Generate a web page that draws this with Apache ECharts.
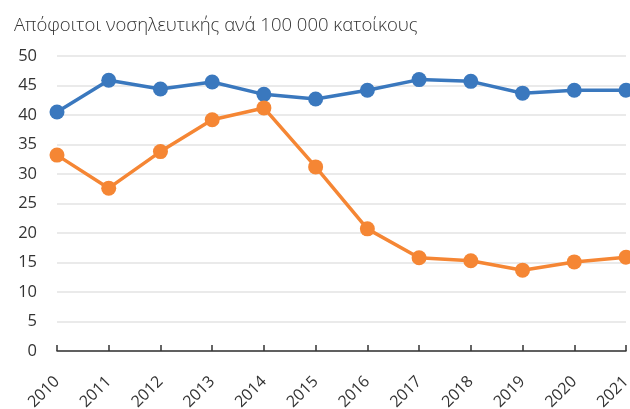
<!DOCTYPE html>
<html>
<head>
<meta charset="utf-8">
<script src="https://cdn.jsdelivr.net/npm/echarts@6/dist/echarts.min.js"></script>
<style>
  html, body { margin: 0; padding: 0; background: #fff; }
  #chart { width: 630px; height: 409px; }
</style>
</head>
<body>
<div id="chart"></div>
<script>
// data
const years = ["2010", "2011", "2012", "2013", "2014", "2015", "2016", "2017", "2018", "2019", "2020", "2021"];
const blueSeries = [40.5, 45.9, 44.4, 45.6, 43.5, 42.7, 44.2, 46.0, 45.7, 43.7, 44.2, 44.2];
const orangeSeries = [33.2, 27.6, 33.8, 39.2, 41.2, 31.2, 20.7, 15.8, 15.3, 13.7, 15.1, 15.9];
const titleText = "Απόφοιτοι νοσηλευτικής ανά 100 000 κατοίκους";

const fontFam = "'Open Sans', 'Noto Sans', sans-serif";
const chart = echarts.init(document.getElementById("chart"), null, { renderer: "canvas" });

function lineSeries(data, color) {
  return {
    type: "line",
    data: data,
    symbol: "circle",
    symbolSize: 15,
    showSymbol: true,
    lineStyle: { color: color, width: 3.5 },
    itemStyle: { color: color, borderWidth: 0 },
    emphasis: { disabled: true },
    animation: false,
    clip: false
  };
}

chart.setOption({
  animation: false,
  title: {
    text: titleText,
    left: 9,
    top: 11,
    textStyle: { fontFamily: fontFam, fontSize: 18.5, fontWeight: 300, color: "#333" }
  },
  grid: { left: 57, right: 4, top: 56, bottom: 58, containLabel: false, outerBoundsMode: "none" },
  xAxis: {
    type: "category",
    data: years,
    boundaryGap: false,
    axisLine: { lineStyle: { color: "#333", width: 1.5 } },
    axisTick: { show: true, inside: true, length: 6, lineStyle: { color: "#333", width: 1.5 }, alignWithLabel: true },
    axisLabel: {
      rotate: 45,
      interval: 0,
      margin: 28,
      fontFamily: fontFam,
      fontSize: 16,
      color: "#333"
    },
    splitLine: { show: false }
  },
  yAxis: {
    type: "value",
    min: 0,
    max: 50,
    interval: 5,
    axisLine: { show: false },
    axisTick: { show: false },
    axisLabel: { fontFamily: fontFam, fontSize: 16.5, color: "#333", margin: 20 },
    splitLine: { lineStyle: { color: "#e3e3e3", width: 1.5 } }
  },
  series: [
    lineSeries(blueSeries, "#3a78be"),
    lineSeries(orangeSeries, "#f58634")
  ]
});
</script>
</body>
</html>
